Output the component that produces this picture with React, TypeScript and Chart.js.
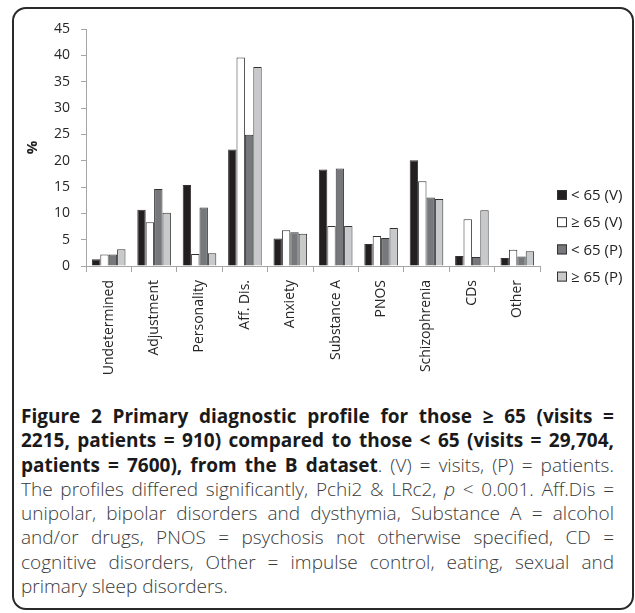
import React, { useEffect, useLayoutEffect, useRef } from "react";
import { Chart, registerables } from "chart.js";

Chart.register(...registerables);

const categories = [
  "Undetermined",
  "Adjustment",
  "Personality",
  "Aff. Dis.",
  "Anxiety",
  "Substance A",
  "PNOS",
  "Schizophrenia",
  "CDs",
  "Other",
];
const under65Visits = [1.3, 10.7, 15.4, 22.1, 5.2, 18.3, 4.2, 20.1, 1.9, 1.5];
const over65Visits = [2.2, 8.3, 2.3, 39.6, 6.8, 7.6, 5.7, 16.1, 8.9, 3.1];
const under65Patients = [2.2, 14.6, 11.1, 24.9, 6.4, 18.5, 5.3, 13.0, 1.7, 1.8];
const over65Patients = [3.2, 10.1, 2.4, 37.8, 6.1, 7.6, 7.2, 12.7, 10.6, 2.8];
const seriesLabels = ["< 65 (V)", "≥ 65 (V)", "< 65 (P)", "≥ 65 (P)"];
const seriesColors = ["#231f20", "#ffffff", "#77787b", "#c8c9cb"];
const yMin = 0;
const yMax = 45;
const yStep = 5;

const FONT = "'Open Sans', 'DejaVu Sans', sans-serif";

const legendPlugin = {
  id: "customLegend",
  afterDraw(chart: any) {
    const ctx = chart.ctx as CanvasRenderingContext2D;
    const x0 = chart.chartArea.right + 17;
    const y0 = 188;
    const step = 27.2;
    ctx.save();
    ctx.font = `15px ${FONT}`;
    ctx.textBaseline = "middle";
    ctx.textAlign = "left";
    chart.data.datasets.forEach((ds: any, i: number) => {
      const y = y0 + i * step;
      ctx.fillStyle = ds.backgroundColor;
      ctx.fillRect(x0, y - 5, 10, 10);
      ctx.strokeStyle = "#333";
      ctx.lineWidth = 1;
      ctx.strokeRect(x0 + 0.5, y - 4.5, 9, 9);
      ctx.fillStyle = "#222";
      ctx.fillText(ds.label, x0 + 14, y + 1);
    });
    ctx.restore();
  },
};

function BarChart() {
  const ref = useRef<HTMLCanvasElement | null>(null);
  useEffect(() => {
    if (!ref.current) return;
    const series = [under65Visits, over65Visits, under65Patients, over65Patients];
    const chart = new Chart(ref.current, {
      type: "bar",
      data: {
        labels: categories,
        datasets: series.map((d, i) => ({
          label: seriesLabels[i],
          data: d,
          backgroundColor: seriesColors[i],
          borderColor: "#333",
          borderWidth: 1,
          categoryPercentage: 0.74,
          barPercentage: 1.0,
        })),
      },
      options: {
        animation: false,
        responsive: true,
        maintainAspectRatio: false,
        layout: { padding: { left: 8, top: 22, right: 94, bottom: 0 } },
        plugins: {
          legend: { display: false },
          tooltip: { enabled: false },
        },
        scales: {
          x: {
            grid: {
              display: true,
              drawOnChartArea: false,
              drawTicks: true,
              tickLength: 6,
              color: "#a6a6a6",
              offset: true,
            },
            border: { color: "#a6a6a6" },
            ticks: {
              autoSkip: false,
              minRotation: 90,
              maxRotation: 90,
              padding: 8,
              color: "#262626",
              font: { family: FONT, size: 14 },
            },
            afterFit: (scale: any) => {
              scale.height = 131;
            },
          },
          y: {
            min: yMin,
            max: yMax,
            ticks: {
              stepSize: yStep,
              padding: 11,
              color: "#262626",
              font: { family: FONT, size: 14 },
            },
            grid: {
              display: true,
              drawOnChartArea: false,
              drawTicks: true,
              tickLength: 5,
              color: "#a6a6a6",
            },
            border: { color: "#a6a6a6" },
            title: {
              display: true,
              text: "%",
              color: "#222",
              font: { family: FONT, size: 15, weight: "bold" },
              padding: { top: 4, bottom: 4 },
            },
            afterFit: (scale: any) => {
              scale.width = 66;
            },
          },
        },
      },
      plugins: [legendPlugin],
    });
    return () => chart.destroy();
  }, []);
  return <canvas ref={ref} />;
}

const CAP_FONT = "'Open Sans', 'Noto Sans', sans-serif";
const bold: React.CSSProperties = { fontWeight: 700, color: "#1a1a1a" };
const light: React.CSSProperties = { fontWeight: 300, color: "#3a3a3a" };

export default function App() {
  const linesRef = useRef<HTMLDivElement | null>(null);

  useLayoutEffect(() => {
    const fit = () => {
      const root = linesRef.current;
      if (!root) return;
      const W = root.clientWidth;
      const rows = Array.from(root.children) as HTMLElement[];
      rows.forEach((div, idx) => {
        const inner = div.firstElementChild as HTMLElement;
        div.style.textAlignLast = "left";
        div.style.letterSpacing = "0px";
        const w = inner.getBoundingClientRect().width;
        const n = (inner.textContent || "").length;
        if (w > W) div.style.letterSpacing = (W - w) / n - 0.05 + "px";
        if (idx < rows.length - 1) div.style.textAlignLast = "justify";
      });
    };
    fit();
    if ((document as any).fonts && (document as any).fonts.ready) {
      (document as any).fonts.ready.then(fit);
    }
  }, []);

  const lineStyle: React.CSSProperties = {
    height: 24.3,
    lineHeight: "24.3px",
    whiteSpace: "nowrap",
    textAlign: "justify",
    textAlignLast: "justify" as any,
  };
  const lastStyle: React.CSSProperties = { ...lineStyle, textAlign: "left", textAlignLast: "left" as any };
  return (
    <div>
      <div
        style={{
          position: "absolute",
          left: 12,
          top: 7,
          width: 622,
          height: 603,
          boxSizing: "border-box",
          border: "2px solid #2a2a2a",
          borderRadius: 14,
        }}
      />
      <div style={{ position: "absolute", left: 12, top: 7, width: 622, height: 390 }}>
        <BarChart />
      </div>
      <div
        ref={linesRef}
        style={{
          position: "absolute",
          left: 21,
          top: 404,
          width: 593,
          fontFamily: CAP_FONT,
          fontSize: 19,
        }}
      >
        <div style={lineStyle}>
          <span>
            <span style={bold}>Figure 2 Primary diagnostic profile for those ≥ 65 (visits =</span>
          </span>
        </div>
        <div style={lineStyle}>
          <span>
            <span style={bold}>2215, patients = 910) compared to those &lt; 65 (visits = 29,704,</span>
          </span>
        </div>
        <div style={lineStyle}>
          <span>
            <span style={bold}>patients = 7600), from the B dataset</span>
            <span style={light}>. (V) = visits, (P) = patients.</span>
          </span>
        </div>
        <div style={lineStyle}>
          <span style={light}>
            The profiles differed significantly, Pchi2 &amp; LRc2, <i>p</i> &lt; 0.001. Aff.Dis =
          </span>
        </div>
        <div style={lineStyle}>
          <span style={light}>unipolar, bipolar disorders and dysthymia, Substance A = alcohol</span>
        </div>
        <div style={lineStyle}>
          <span style={light}>and/or drugs, PNOS = psychosis not otherwise specified, CD =</span>
        </div>
        <div style={lineStyle}>
          <span style={light}>cognitive disorders, Other = impulse control, eating, sexual and</span>
        </div>
        <div style={lastStyle}>
          <span style={light}>primary sleep disorders.</span>
        </div>
      </div>
    </div>
  );
}
